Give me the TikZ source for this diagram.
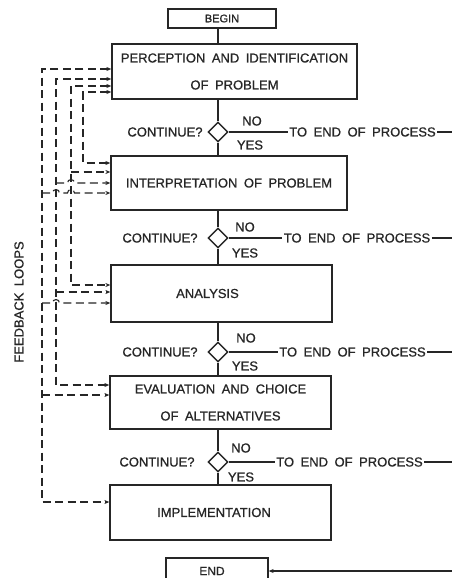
\documentclass[tikz,border=0pt]{standalone}
\usepackage{fontspec}
\setmainfont{Liberation Sans}[WordSpace=1.8, FakeBold=0.8]
\usetikzlibrary{shapes.geometric,arrows.meta,calc}
\definecolor{ink}{gray}{0.15}
\begin{document}
\begin{tikzpicture}[x=1pt,y=-1pt,
  box/.style={draw=ink, line width=1.3pt, fill=white, inner sep=0pt, align=center, text=ink, font=\fontsize{13}{27}\selectfont},
  dia/.style={diamond, draw=ink, line width=1.4pt, fill=white, minimum width=20pt, minimum height=20pt, inner sep=0pt},
  lbl/.style={font=\fontsize{13}{15}\selectfont, text=ink, inner sep=1.5pt},
  flow/.style={draw=ink, line width=1.2pt},
  fb/.style={draw=ink, line width=1.1pt, dash pattern=on 8pt off 4.5pt},
  tipe/.style={-{Stealth[length=5pt,width=4pt]}},
  tipb/.style={{Stealth[length=5pt,width=4pt]}-{Stealth[length=5pt,width=4pt]}}]
\useasboundingbox[fill=white] (0,0) rectangle (452,578);
\begin{scope}
\clip (0,0) rectangle (452,578);
% boxes
\node[box, minimum width=108pt, minimum height=19pt, font=\fontsize{11}{13}\selectfont] (b) at (222,18.5) {BEGIN};
\node[box, minimum width=245pt, minimum height=55pt] (p) at (234.5,71.5) {PERCEPTION AND IDENTIFICATION\\OF PROBLEM};
\node[box, minimum width=236pt, minimum height=54pt] (i) at (229,183) {INTERPRETATION OF PROBLEM};
\node[box, minimum width=221pt, minimum height=57pt] (a) at (221.5,293.5) {ANALYSIS\hspace*{28pt}};
\node[box, minimum width=221pt, minimum height=53pt] (e) at (220.5,402.5) {EVALUATION AND CHOICE\\OF ALTERNATIVES};
\node[box, minimum width=221pt, minimum height=55pt] (m) at (220.5,512.5) {IMPLEMENTATION\hspace*{13pt}};
\node[box, minimum width=102pt, minimum height=26pt, font=\fontsize{12}{14}\selectfont] (en) at (217,571) {END\hspace*{10pt}};
% diamonds
\node[dia] (d1) at (218,132) {};
\node[dia] (d2) at (218,238) {};
\node[dia] (d3) at (218,352) {};
\node[dia] (d4) at (218,462) {};
% main flow
\draw[flow] (b.south -| d1) -- (p.north -| d1);
\draw[flow] (p.south -| d1) -- (d1.north);
\draw[flow] (d1.south) -- (i.north -| d1);
\draw[flow] (i.south -| d2) -- (d2.north);
\draw[flow] (d2.south) -- (a.north -| d2);
\draw[flow] (a.south -| d3) -- (d3.north);
\draw[flow] (d3.south) -- (e.north -| d3);
\draw[flow] (e.south -| d4) -- (d4.north);
\draw[flow] (d4.south) -- (m.north -| d4);
% labels
\node[lbl] (c1) at (165,132) {CONTINUE?};
\node[lbl] (c2) at (160,238) {CONTINUE?};
\node[lbl] (c3) at (160,352) {CONTINUE?};
\node[lbl] (c4) at (157,462) {CONTINUE?};
\node[lbl] (n1) at (252,121) {NO};
\node[lbl] (n2) at (245,227) {NO};
\node[lbl] (n3) at (246,338) {NO};
\node[lbl] (n4) at (241,448) {NO};
\node[lbl] (y1) at (250,145) {YES};
\node[lbl] (y2) at (245,253) {YES};
\node[lbl] (y3) at (245,366) {YES};
\node[lbl] (y4) at (241,477) {YES};
\node[lbl] (t1) at (362.5,132) {TO END OF PROCESS};
\node[lbl] (t2) at (357,238) {TO END OF PROCESS};
\node[lbl] (t3) at (352.5,352) {TO END OF PROCESS};
\node[lbl] (t4) at (349.5,462) {TO END OF PROCESS};
\coordinate (r1) at (452,132);
\coordinate (r2) at (452,238);
\coordinate (r3) at (452,352);
\coordinate (r4) at (452,462);
\coordinate (r5) at (452,571);
\draw[flow] (d1.east) -- (t1.west);
\draw[flow] (t1.east) -- (r1);
\draw[flow] (d2.east) -- (t2.west);
\draw[flow] (t2.east) -- (r2);
\draw[flow] (d3.east) -- (t3.west);
\draw[flow] (t3.east) -- (r3);
\draw[flow] (d4.east) -- (t4.west);
\draw[flow] (t4.east) -- (r4);
\draw[flow, tipe] (r5) -- (en.east |- r5);
% feedback loops
\node[lbl, rotate=90] (fl) at (19,302) {FEEDBACK LOOPS};
% bus coordinates
\coordinate (A0) at (42,69);  \coordinate (A1) at (42,193); \coordinate (A2) at (42,303); \coordinate (A3) at (42,395); \coordinate (A4) at (42,502);
\coordinate (B0) at (56,79);  \coordinate (B1) at (56,183); \coordinate (B2) at (56,292); \coordinate (B3) at (56,385);
\coordinate (C0) at (71,86);  \coordinate (C1) at (71,172); \coordinate (C2) at (71,285);
\coordinate (D0) at (83,92);  \coordinate (D1) at (83,163);
\draw[fb, tipb] (A0 -| p.west) -- (A0) -- (A4) -- (A4 -| m.west);
\draw[fb, tipb] (B0 -| p.west) -- (B0) -- (B3) -- (B3 -| e.west);
\draw[fb, tipb] (C0 -| p.west) -- (C0) -- (C2) -- (C2 -| a.west);
\draw[fb, tipb] (D0 -| p.west) -- (D0) -- (D1) -- (D1 -| i.west);
% branches with hops over crossing buses
\draw[fb, tipe] (A1) -- (52.5,193) arc[start angle=180, end angle=0, radius=3.5pt] -- (67.5,193) arc[start angle=180, end angle=0, radius=3.5pt] -- (A1 -| i.west);
\draw[fb, tipe] (B1) -- (67.5,183) arc[start angle=180, end angle=0, radius=3.5pt] -- (B1 -| i.west);
\draw[fb, tipe] (C1) -- (C1 -| i.west);
\draw[fb, tipe] (A2) -- (52.5,303) arc[start angle=180, end angle=0, radius=3.5pt] -- (A2 -| a.west);
\draw[fb, tipe] (B2) -- (B2 -| a.west);
\draw[fb, tipe] (A3) -- (A3 -| e.west);
\end{scope}
\end{tikzpicture}
\end{document}
